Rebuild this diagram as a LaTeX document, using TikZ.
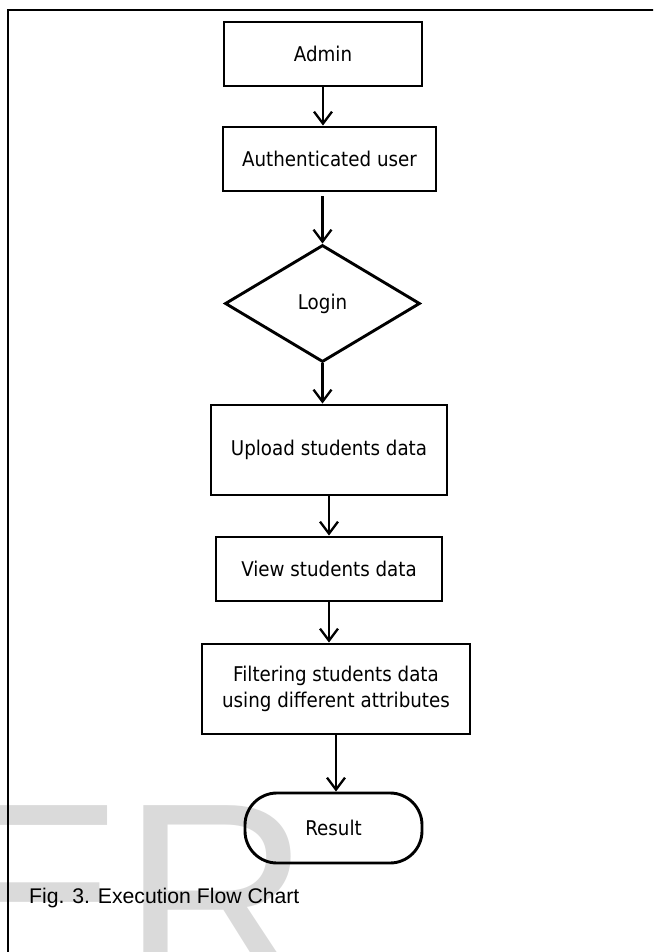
\documentclass[tikz,border=0pt]{standalone}
\usepackage{fontspec}
\setmainfont{Liberation Sans}
\newfontfamily\boxfont[FakeStretch=0.9]{DejaVu Sans}
\usetikzlibrary{shapes.geometric,arrows.meta,calc}
\definecolor{wm}{RGB}{218,218,218}
\begin{document}
\begin{tikzpicture}[x=1pt,y=-1pt,
  box/.style={draw, line width=2.9pt, inner sep=0pt, align=center,
    font=\boxfont\fontsize{20.3}{26}\selectfont},
  arr/.style={line width=2.3pt, -{Straight Barb[length=12pt,width=18pt,line width=2.3pt]}},
  wmark/.style={anchor=base west, inner sep=0pt, text=wm, font=\fontsize{260}{260}\selectfont},
]
\useasboundingbox (0,0) rectangle (653,952);
\clip (0,0) rectangle (653,952);
% watermark
\node[wmark] (wmE) at (-50,984) {E};
\node[wmark] (wmR) at (122,984) {R};
% frame
\draw[line width=2.2pt] (660,10) -- (8,10) -- (8,960);
% nodes
\node[box, minimum width=198pt, minimum height=64pt] (admin) at (323,54) {Admin};
\node[box, minimum width=213pt, minimum height=64pt] (auth) at (329.5,159) {Authenticated user};
\node[box, shape=diamond, minimum width=195pt, minimum height=117pt] (login) at (322.5,303.5) {Login};
\node[box, minimum width=236pt, minimum height=90pt] (upload) at (329,450) {Upload students data};
\node[box, minimum width=226pt, minimum height=64pt] (view) at (329,569) {View students data};
\node[box, minimum width=268pt, minimum height=90pt] (filter) at (336,689) {Filtering students data\\using different attributes};
\node[box, minimum width=177pt, minimum height=70pt, rounded corners=32pt] (result) at (333.5,828) {Result};
% connectors
\draw[arr] (admin.south) -- (admin.south |- auth.north);
\draw[arr] ($(auth.south -| login.north)+(0,4)$) -- (login.north);
\draw[arr] (login.south) -- (login.south |- upload.north);
\draw[arr] (upload.south) -- (upload.south |- view.north);
\draw[arr] (view.south) -- (view.south |- filter.north);
\draw[arr] (filter.south) -- (filter.south |- result.north);
% caption
\node[anchor=base west, inner sep=0pt, font=\fontsize{21.2}{25}\selectfont] (cap) at (29,903) {Fig. 3. Execution Flow Chart};
\end{tikzpicture}
\end{document}
